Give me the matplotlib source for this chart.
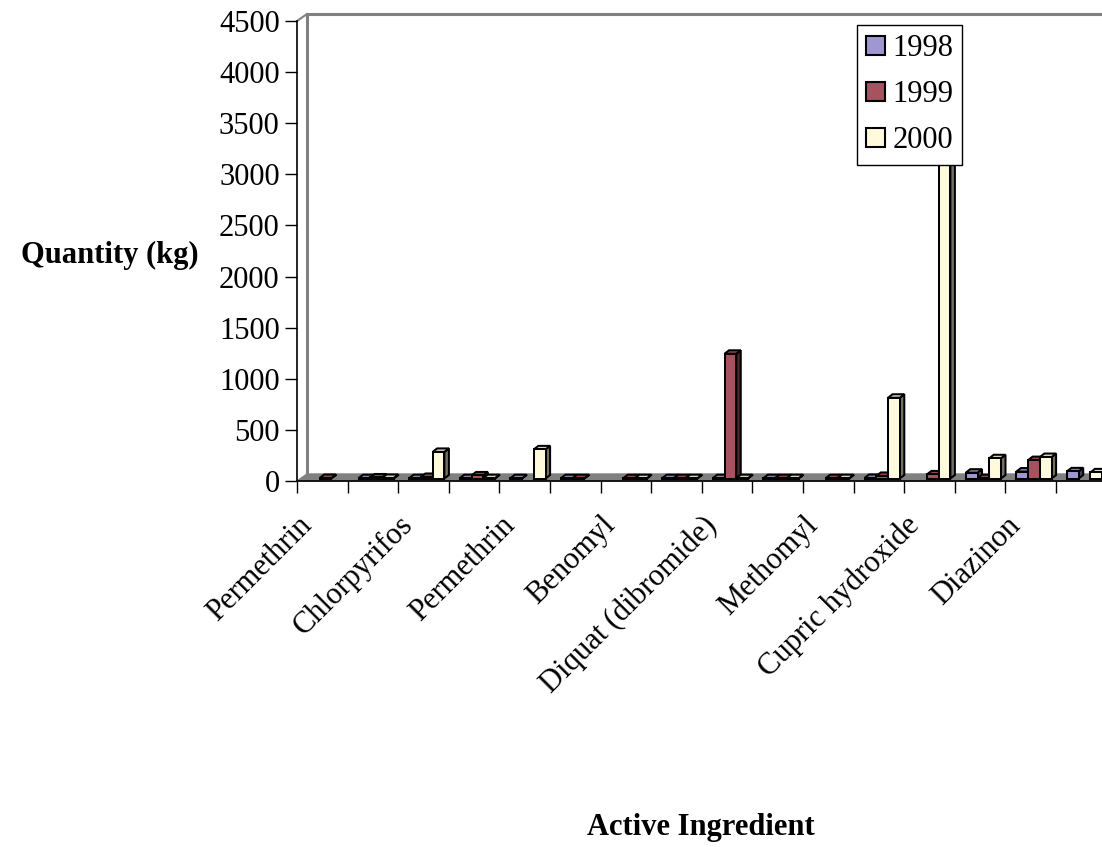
import matplotlib
matplotlib.use("Agg")
import matplotlib.pyplot as plt
from matplotlib.patches import Polygon, Patch
from matplotlib.transforms import ScaledTranslation
import numpy as np

# ---- data ----
categories = ["Permethrin", "", "Chlorpyrifos", "", "Permethrin", "", "Benomyl", "",
              "Diquat (dibromide)", "", "Methomyl", "", "Cupric hydroxide", "", "Diazinon", ""]
series_names = ["1998", "1999", "2000"]
v1998 = [0, 3, 3, 3, 3, 3, 0, 3, 3, 3, 0, 5, 0, 57, 68, 70]
v1999 = [5, 10, 15, 30, 0, 3, 3, 3, 1220, 3, 3, 25, 40, 3, 180, 0]
v2000 = [0, 5, 260, 3, 285, 0, 3, 3, 3, 3, 3, 790, 3700, 198, 210, 60]
yticks = [0, 500, 1000, 1500, 2000, 2500, 3000, 3500, 4000, 4500]

colors = ["#9F97D0", "#A8515F", "#FFFADC"]
FONT = "Liberation Serif"

W, H, DPI = 1102, 847, 100
fig = plt.figure(figsize=(W / DPI, H / DPI), dpi=DPI)

ncat = len(categories)
cat_px = 50.6
ax_left, ax_front, ax_top = 297, 481, 21
ax = fig.add_axes([ax_left / W, (H - ax_front) / H, ncat * cat_px / W, (ax_front - ax_top) / H])
ymax = yticks[-1]
ax.set_xlim(0, ncat)
ax.set_ylim(0, ymax)

# pixel -> data conversions
px_x = 1.0 / cat_px
px_y = ymax / (ax_front - ax_top)

# depth geometry (pixels)
wall_dx, wall_dy = 10, 7
grey = "#808080"

# floor
floor = Polygon([(0, 0), (ncat, 0), (ncat + wall_dx * px_x, wall_dy * px_y), (wall_dx * px_x, wall_dy * px_y)],
                closed=True, facecolor=grey, edgecolor=grey, lw=1, zorder=1, clip_on=False)
ax.add_patch(floor)
# back wall lines
ax.plot([wall_dx * px_x, wall_dx * px_x], [wall_dy * px_y, ymax + wall_dy * px_y], color=grey, lw=2.2,
        clip_on=False, zorder=1, solid_capstyle="butt")
ax.plot([wall_dx * px_x, ncat + wall_dx * px_x], [ymax + wall_dy * px_y] * 2, color=grey, lw=2.2,
        clip_on=False, zorder=1)
ax.plot([0, wall_dx * px_x], [ymax, ymax + wall_dy * px_y], color=grey, lw=1.5, clip_on=False, zorder=1)

# bars with pseudo-3D faces
bar_w = 0.232
start = 0.217
bdx, bdy = 4.5, 3.5   # bar depth faces (pixels)
base = 2.5 * px_y     # mid-depth floor level
values = [v1998, v1999, v2000]

def darker(c, f):
    c = np.array(matplotlib.colors.to_rgb(c))
    return tuple(c * f)

z = 2.0
for i in range(ncat):
    for s in range(3):
        v = values[s][i]
        if v <= 0:
            continue
        x0 = i + start + s * bar_w
        x1 = x0 + bar_w
        y0 = base
        y1 = base + v
        ddx, ddy = bdx * px_x, bdy * px_y
        kw = dict(edgecolor="black", lw=1.45, joinstyle="miter", clip_on=False)
        side = Polygon([(x1, y0), (x1 + ddx, y0 + ddy), (x1 + ddx, y1 + ddy), (x1, y1)],
                       facecolor=darker(colors[s], 0.45), zorder=z, **kw)
        top = Polygon([(x0, y1), (x1, y1), (x1 + ddx, y1 + ddy), (x0 + ddx, y1 + ddy)],
                      facecolor=darker(colors[s], 0.85), zorder=z + 0.001, **kw)
        front = Polygon([(x0, y0), (x1, y0), (x1, y1), (x0, y1)],
                        facecolor=colors[s], zorder=z + 0.002, **kw)
        ax.add_patch(side)
        ax.add_patch(top)
        ax.add_patch(front)
        z += 0.003

# spines
for sp in ["top", "right"]:
    ax.spines[sp].set_visible(False)
ax.spines["left"].set_color("black")
ax.spines["bottom"].set_color("black")
ax.spines["left"].set_linewidth(1.2)
ax.spines["bottom"].set_linewidth(1.2)
ax.spines["left"].set_zorder(1.5)
ax.spines["bottom"].set_zorder(1.5)

ax.set_yticks(yticks)
ax.set_yticklabels([str(t) for t in yticks], fontsize=22, family=FONT)
ax.tick_params(axis="y", direction="out", length=9, width=1, pad=3.5, colors="black")

# x ticks: minor at category boundaries, labels on every other category
ax.set_xticks(np.arange(ncat + 1), minor=True)
ax.tick_params(axis="x", which="minor", direction="out", length=8.6, width=1)
lab_idx = [i for i in range(0, ncat, 2)]
ax.set_xticks([i + 0.5 for i in lab_idx])
ax.set_xticklabels([categories[i] for i in lab_idx], rotation=45, ha="right",
                   rotation_mode="anchor", fontsize=22, family=FONT)
ax.tick_params(axis="x", which="major", length=0, pad=12)
shift = ScaledTranslation(-25 / DPI, -13 / DPI, fig.dpi_scale_trans)
for lab in ax.get_xticklabels():
    lab.set_transform(lab.get_transform() + shift)

# titles
fig.text(110 / W, 1 - 255 / H, "Quantity (kg)", ha="center", va="center",
         fontsize=22, fontweight="bold", family=FONT)
fig.text(701 / W, 1 - 827 / H, "Active Ingredient", ha="center", va="center",
         fontsize=22, fontweight="bold", family=FONT)

# legend
handles = [Patch(facecolor=colors[k], edgecolor="black", lw=1.5) for k in range(3)]
leg = ax.legend(handles, series_names, loc="upper left", bbox_to_anchor=(857 / W, 1 - 25 / H),
                bbox_transform=fig.transFigure, borderaxespad=0, borderpad=0.3,
                handlelength=0.6, handleheight=0.6, handletextpad=0.25, labelspacing=0.56,
                prop={"family": FONT, "size": 22}, fancybox=False, framealpha=1)
leg.get_frame().set_edgecolor("black")
leg.get_frame().set_linewidth(1.0)
leg.set_zorder(10)

fig.savefig("out.png", dpi=DPI)
